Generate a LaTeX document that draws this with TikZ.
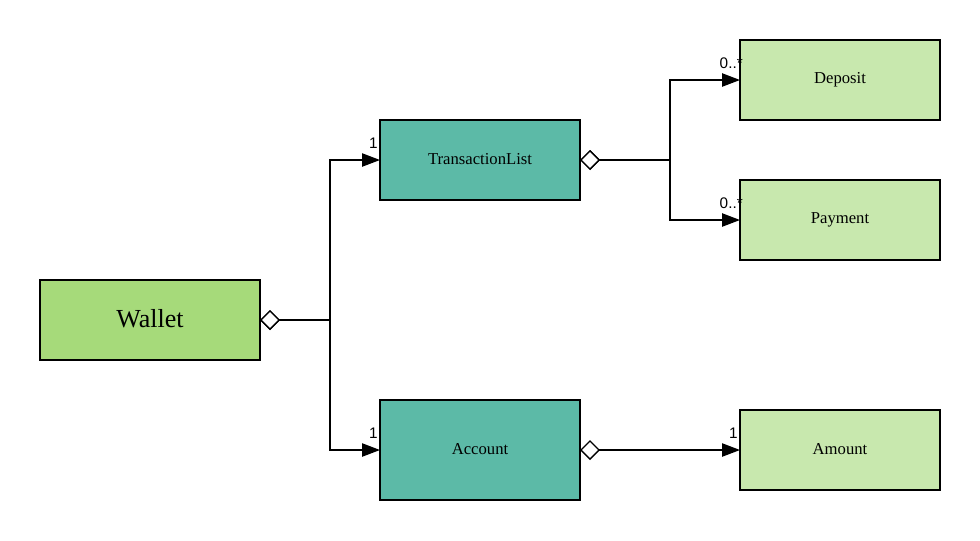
\documentclass[tikz,border=0pt]{standalone}
\usepackage{fontspec}
\setmainfont{Liberation Serif}
\newfontfamily\lblfont{Liberation Sans}
\usetikzlibrary{arrows.meta}
\definecolor{walletc}{RGB}{166,218,122}
\definecolor{tealc}{RGB}{92,186,167}
\definecolor{lightc}{RGB}{200,232,174}
\tikzset{
  box/.style={draw=black, line width=1pt, inner sep=0pt, outer sep=0pt, minimum width=150pt, minimum height=60pt, font=\fontsize{12.5}{14}\selectfont},
  agg/.style={draw=black, line width=1pt, {Diamond[open, fill=white, length=15pt, width=15pt]}-{Triangle[length=13.5pt, width=10pt]}},
  mult/.style={inner sep=0pt, font=\fontsize{11.5}{13}\selectfont\lblfont, anchor=base east}
}
\begin{document}
\begin{tikzpicture}[x=0.75pt, y=-0.75pt]
\useasboundingbox[fill=white] (0,0) rectangle (980,540);
\node[box, fill=walletc, minimum width=165pt, font=\fontsize{19.5}{22}\selectfont] (wallet) at (150,320) {\raisebox{2pt}{Wallet}};
\node[box, fill=tealc] (tl) at (480,160) {\raisebox{1.5pt}{TransactionList}};
\node[box, fill=tealc, minimum height=75pt] (acc) at (480,450) {\raisebox{1.5pt}{Account}};
\node[box, fill=lightc] (dep) at (840,80) {\raisebox{1.5pt}{Deposit}};
\node[box, fill=lightc] (pay) at (840,220) {\raisebox{1.5pt}{Payment}};
\node[box, fill=lightc] (amt) at (840,450) {\raisebox{1.5pt}{Amount}};
\coordinate (j1) at (330,320);
\coordinate (j2) at (670,160);
\draw[agg] (wallet.east) -- (j1) |- (tl.west);
\draw[agg] (wallet.east) -- (j1) |- (acc.west);
\draw[agg] (tl.east) -- (j2) |- (dep.west);
\draw[agg] (tl.east) -- (j2) |- (pay.west);
\draw[agg] (acc.east) -- (amt.west);
\node[mult] (m1) at (378,148) {1};
\node[mult] (m2) at (378,438) {1};
\node[mult] (m3) at (743,68) {0..*};
\node[mult] (m4) at (743,208) {0..*};
\node[mult] (m5) at (738,438) {1};
\end{tikzpicture}
\end{document}
